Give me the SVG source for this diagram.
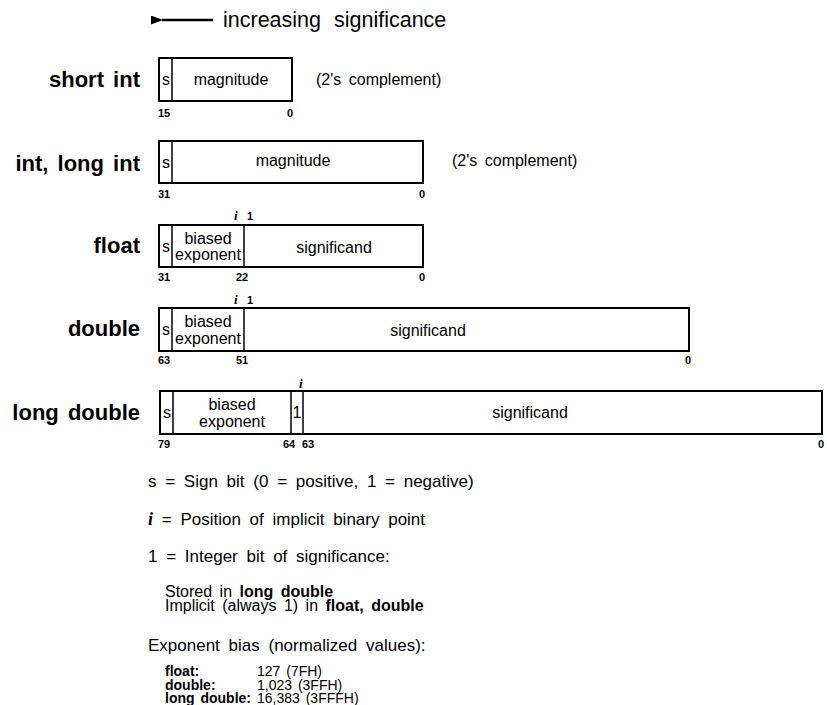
<svg xmlns="http://www.w3.org/2000/svg" width="827" height="705" viewBox="0 0 827 705">
<defs>
<marker id="ah" markerWidth="12" markerHeight="9" refX="1" refY="4.5" orient="auto" markerUnits="userSpaceOnUse">
<path d="M12,0 L0,4.5 L12,9 Z" fill="#000"/>
</marker>
</defs>
<style>
text{font-family:"Liberation Sans",Arial,sans-serif;fill:#000}
.lbl{font-size:22px;font-weight:bold;text-anchor:end;word-spacing:3px}
.box{fill:#fff;stroke:#000;stroke-width:2}
.div{stroke:#000;stroke-width:1.5}
.f{font-size:16px}
.c{text-anchor:middle}
.n{font-size:11px;font-weight:bold}
.ii{font-family:"Liberation Serif",serif;font-style:italic;font-weight:bold;font-size:13px}
.leg{font-size:17px;word-spacing:4px}
.sm{font-size:16px;word-spacing:3px}
.xs{font-size:14px;word-spacing:2px}
.b{font-weight:bold}
</style>
<rect width="827" height="705" fill="#fff"/>
<g id="connectors">
<line x1="213" y1="20" x2="162" y2="20" stroke="#000" stroke-width="2.5" marker-end="url(#ah)"/>
</g>
<text x="223" y="27" font-size="21.5" style="word-spacing:7px">increasing significance</text>

<g id="short-int">
<text class="lbl" x="140" y="87">short int</text>
<rect class="box" x="159" y="58" width="133" height="43"/>
<line class="div" x1="172" y1="58" x2="172" y2="101"/>
<text class="f c" x="166" y="85">s</text>
<text class="f c" x="231" y="85">magnitude</text>
<text class="f" x="316" y="85" style="word-spacing:3px">(2's complement)</text>
<text class="n" x="158" y="117">15</text>
<text class="n" x="287" y="117">0</text>
</g>

<g id="int-long-int">
<text class="lbl" x="140" y="171">int, long int</text>
<rect class="box" x="159" y="141" width="264" height="42"/>
<line class="div" x1="172" y1="141" x2="172" y2="183"/>
<text class="f c" x="166" y="168">s</text>
<text class="f c" x="293" y="166">magnitude</text>
<text class="f" x="452" y="166" style="word-spacing:3px">(2's complement)</text>
<text class="n" x="158" y="198">31</text>
<text class="n" x="419" y="198">0</text>
</g>

<g id="float">
<text class="lbl" x="140" y="253">float</text>
<text class="ii" x="234" y="220">i</text>
<text class="n" x="247" y="220">1</text>
<rect class="box" x="159" y="225" width="264" height="42"/>
<line class="div" x1="172" y1="225" x2="172" y2="267"/>
<line class="div" x1="244" y1="225" x2="244" y2="267"/>
<text class="f c" x="166" y="252">s</text>
<text class="f c" x="208" y="244">biased</text>
<text class="f c" x="208" y="260">exponent</text>
<text class="f c" x="334" y="253">significand</text>
<text class="n" x="158" y="281">31</text>
<text class="n" x="236" y="281">22</text>
<text class="n" x="419" y="281">0</text>
</g>

<g id="double">
<text class="lbl" x="140" y="336">double</text>
<text class="ii" x="234" y="304">i</text>
<text class="n" x="247" y="304">1</text>
<rect class="box" x="159" y="308" width="530" height="43"/>
<line class="div" x1="172" y1="308" x2="172" y2="351"/>
<line class="div" x1="244" y1="308" x2="244" y2="351"/>
<text class="f c" x="166" y="335">s</text>
<text class="f c" x="208" y="327">biased</text>
<text class="f c" x="208" y="344">exponent</text>
<text class="f c" x="428" y="336">significand</text>
<text class="n" x="158" y="364">63</text>
<text class="n" x="236" y="364">51</text>
<text class="n" x="685" y="364">0</text>
</g>

<g id="long-double">
<text class="lbl" x="140" y="420">long double</text>
<text class="ii" x="299" y="388">i</text>
<rect class="box" x="160" y="391" width="662" height="43"/>
<line class="div" x1="173" y1="391" x2="173" y2="434"/>
<line class="div" x1="291" y1="391" x2="291" y2="434"/>
<line class="div" x1="303" y1="391" x2="303" y2="434"/>
<text class="f c" x="167" y="418">s</text>
<text class="f c" x="232" y="410">biased</text>
<text class="f c" x="232" y="427">exponent</text>
<text class="f c" x="297" y="418">1</text>
<text class="f c" x="530" y="418">significand</text>
<text class="n" x="158" y="448">79</text>
<text class="n" x="283" y="448">64</text>
<text class="n" x="302" y="448">63</text>
<text class="n" x="818" y="448">0</text>
</g>

<g id="legend">
<text class="leg" x="148" y="487">s = Sign bit (0 = positive, 1 = negative)</text>
<text class="leg" x="148" y="525"><tspan class="ii" style="font-size:18px">i</tspan> = Position of implicit binary point</text>
<text class="leg" x="148" y="562">1 = Integer bit of significance:</text>
<text class="sm" x="165" y="597">Stored in <tspan class="b">long double</tspan></text>
<text class="sm" x="165" y="611">Implicit (always 1) in <tspan class="b">float, double</tspan></text>
<text class="leg" x="148" y="651">Exponent bias (normalized values):</text>
<text class="xs b" x="165" y="676">float:</text>
<text class="xs" x="257" y="676">127 (7FH)</text>
<text class="xs b" x="165" y="689.5">double:</text>
<text class="xs" x="257" y="689.5">1,023 (3FFH)</text>
<text class="xs b" x="165" y="703">long double:</text>
<text class="xs" x="257" y="703">16,383 (3FFFH)</text>
</g>
</svg>
